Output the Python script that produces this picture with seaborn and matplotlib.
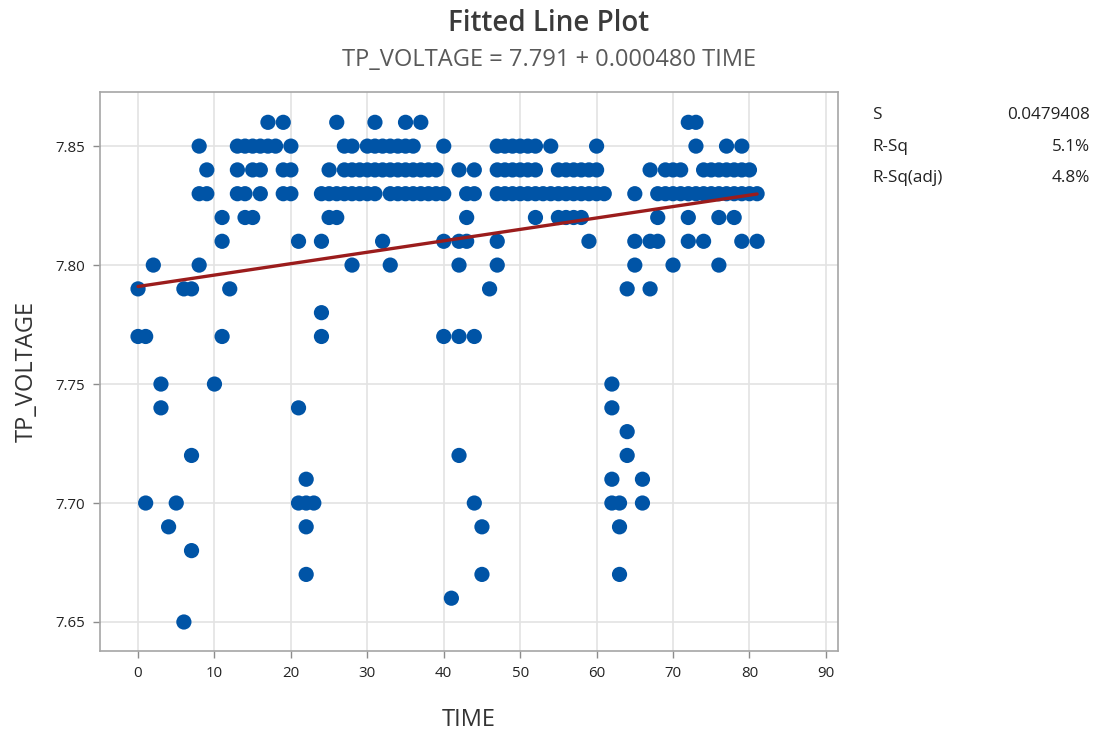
import numpy as np
import pandas as pd
import matplotlib
matplotlib.use("Agg")
import matplotlib.pyplot as plt
import seaborn as sns

# TIME values observed at each TP_VOLTAGE level
v786 = [17, 19, 26, 31, 35, 37, 72, 73]
v785 = [8, 13, 14, 15, 16, 17, 18, 20, 27, 28, 30, 31, 32, 33, 34, 35, 36, 40,
        47, 48, 49, 50, 51, 52, 54, 60, 73, 77, 79]
v784 = [9, 13, 15, 16, 19, 20, 25, 27, 28, 29, 30, 31, 32, 33, 34, 35, 36, 37,
        38, 39, 42, 44, 47, 48, 49, 50, 51, 52, 55, 56, 57, 58, 59, 60,
        67, 69, 70, 71, 74, 75, 76, 77, 78, 79, 80]
v783 = [8, 9, 13, 14, 16, 19, 20, 24, 25, 26, 27, 28, 29, 30, 31, 33, 34, 35,
        36, 37, 38, 39, 40, 43, 44, 47, 48, 49, 50, 51, 52, 53, 54, 55, 56, 57,
        58, 59, 60, 61, 65, 68, 69, 70, 71, 72, 73, 74, 75, 76, 77, 78, 79,
        80, 81]
v782 = [11, 14, 15, 25, 26, 43, 52, 55, 56, 57, 58, 68, 72, 76, 78]
v781 = [11, 21, 24, 32, 40, 42, 43, 47, 59, 65, 67, 68, 72, 74, 79, 81]
v780 = [2, 8, 28, 33, 42, 47, 65, 70, 76]
v779 = [0, 6, 7, 12, 46, 64, 67]
v778 = [24]
v777 = [0, 1, 11, 24, 40, 42, 44]
v775 = [3, 10, 62]
v774 = [3, 21, 62]
v773 = [64]
v772 = [7, 42, 64]
v771 = [22, 62, 66]
v770 = [1, 5, 21, 22, 23, 44, 62, 63, 66]
v769 = [4, 22, 45, 63]
v768 = [7]
v767 = [22, 45, 63]
v766 = [41]
v765 = [6]

levels = {
    7.86: v786, 7.85: v785, 7.84: v784, 7.83: v783, 7.82: v782, 7.81: v781,
    7.80: v780, 7.79: v779, 7.78: v778, 7.77: v777, 7.75: v775, 7.74: v774,
    7.73: v773, 7.72: v772, 7.71: v771, 7.70: v770, 7.69: v769, 7.68: v768,
    7.67: v767, 7.66: v766, 7.65: v765,
}

# Regression summary
intercept = 7.791
slope = 0.000480
stat_names = ["S", "R-Sq", "R-Sq(adj)"]
stat_values = ["0.0479408", "5.1%", "4.8%"]

x_ticks = [0, 10, 20, 30, 40, 50, 60, 70, 80, 90]
y_ticks = [7.65, 7.70, 7.75, 7.80, 7.85]

rows = [(t, v) for v, ts in levels.items() for t in ts]
df = pd.DataFrame(rows, columns=["TIME", "TP_VOLTAGE"])

fit_x = np.array([df["TIME"].min(), df["TIME"].max()], dtype=float)
fit = pd.DataFrame({"TIME": fit_x, "TP_VOLTAGE": intercept + slope * fit_x})

sns.set_theme(style="white")
plt.rcParams["font.family"] = ["Open Sans", "DejaVu Sans"]

fig = plt.figure(figsize=(10.97, 7.31), dpi=100)
ax = fig.add_axes([0.0912, 0.1094, 0.6728, 0.7646])

ax.grid(True, color="#e3e3e3", linewidth=1.2, zorder=0)
ax.set_axisbelow(True)

sns.scatterplot(data=df, x="TIME", y="TP_VOLTAGE", ax=ax, color="#0054A6",
                s=120, edgecolor="none", linewidth=0, zorder=3)
sns.lineplot(data=fit, x="TIME", y="TP_VOLTAGE", ax=ax, color="#9B1C1C",
             linewidth=2.4, zorder=4)

ax.set_xlim(-4.97, 91.6)
ax.set_ylim(7.6378, 7.8727)
ax.set_xticks(x_ticks)
ax.set_yticks(y_ticks)
ax.set_yticklabels([f"{y:.2f}" for y in y_ticks])
ax.tick_params(axis="both", which="major", direction="out", length=5,
               width=1, color="#8c8c8c", labelsize=10.8, labelcolor="#222222",
               bottom=True, left=True, pad=6)
for s in ax.spines.values():
    s.set_color("#a6a6a6")
    s.set_linewidth(1.2)

ax.set_xlabel("TIME", fontsize=17, color="#333333", labelpad=19)
ax.set_ylabel("TP_VOLTAGE", fontsize=17, color="#333333", labelpad=12)

fig.text(0.5, 0.968, "Fitted Line Plot", ha="center", va="center",
         fontsize=20, fontweight="semibold", color="#3a3a3a")
fig.text(0.5, 0.918, f"TP_VOLTAGE = {intercept:.3f} + {slope:.6f} TIME",
         ha="center", va="center", fontsize=17, color="#595959")

row_y = [0.842, 0.799, 0.756]
for name, val, yy in zip(stat_names, stat_values, row_y):
    fig.text(0.795, yy, name, ha="left", va="center", fontsize=12.3,
             color="#222222")
    fig.text(0.994, yy, val, ha="right", va="center", fontsize=12.3,
             color="#222222")

fig.savefig("out.png", dpi=100)
